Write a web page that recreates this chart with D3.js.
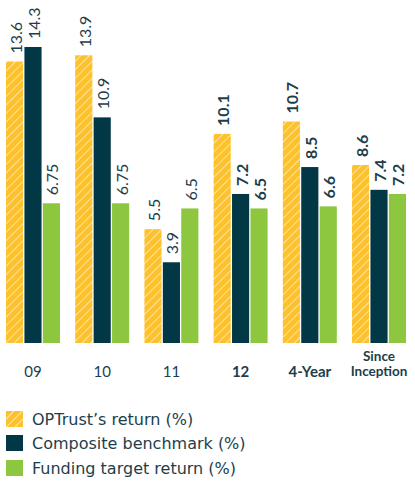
<!DOCTYPE html>
<html><head><meta charset="utf-8">
<script src="https://cdn.jsdelivr.net/npm/d3@7"></script>
<style>html,body{margin:0;padding:0;background:#fff;}svg{display:block;}</style>
</head><body>
<script>
const categories = ["09", "10", "11", "12", "4-Year", "Since Inception"];
const boldCategories = ["12", "4-Year", "Since Inception"];
const seriesNames = ["OPTrust\u2019s return (%)", "Composite benchmark (%)", "Funding target return (%)"];
const optrust = [13.6, 13.9, 5.5, 10.1, 10.7, 8.6];
const composite = [14.3, 10.9, 3.9, 7.2, 8.5, 7.4];
const funding = [6.75, 6.75, 6.5, 6.5, 6.6, 7.2];
const valueLabels = [
  ["13.6", "13.9", "5.5", "10.1", "10.7", "8.6"],
  ["14.3", "10.9", "3.9", "7.2", "8.5", "7.4"],
  ["6.75", "6.75", "6.5", "6.5", "6.6", "7.2"]
];

const W = 415, H = 481;
const FONT = "Lato, 'Open Sans', sans-serif";
const LEGFONT = "'DejaVu Sans', Lato, sans-serif";
const TEXT = "#1d3e4a";
const colors = ["#FDC12B", "#023745", "#8DC63F"];

const svg = d3.select("body").append("svg").attr("width", W).attr("height", H);
const defs = svg.append("defs");
function hatch(id, sw) {
  const p = defs.append("pattern").attr("id", id).attr("patternUnits", "userSpaceOnUse")
    .attr("width", 6).attr("height", 6).attr("patternTransform", "rotate(45)");
  p.append("rect").attr("width", 6).attr("height", 6).attr("fill", colors[0]);
  p.append("line").attr("x1", 0).attr("y1", 0).attr("x2", 0).attr("y2", 6)
    .attr("stroke", "#fff").attr("stroke-width", sw).attr("stroke-opacity", 0.9);
}
hatch("hatch", 1.2);
hatch("hatchL", 1.4);

const fills = ["url(#hatch)", colors[1], colors[2]];

const x0 = d3.scaleBand().domain(categories).range([6, 406]).paddingInner(0.22).paddingOuter(0);
const x1 = d3.scaleBand().domain([0, 1, 2]).range([0, x0.bandwidth()]).paddingInner(0.07);
const y = d3.scaleLinear().domain([0, 15]).range([343, 32.5]);

const series = [optrust, composite, funding];
const data = [];
categories.forEach((c, i) => {
  series.forEach((s, k) => data.push({cat: c, k, v: s[i], label: valueLabels[k][i], bold: boldCategories.includes(c)}));
});

const g = svg.append("g");
g.selectAll("rect.bar").data(data).join("rect").attr("class", "bar")
  .attr("x", d => x0(d.cat) + x1(d.k))
  .attr("width", x1.bandwidth())
  .attr("y", d => y(d.v))
  .attr("height", d => y(0) - y(d.v))
  .attr("fill", d => fills[d.k]);

g.selectAll("text.val").data(data).join("text").attr("class", "val")
  .attr("transform", d => `translate(${x0(d.cat) + x1(d.k) + x1.bandwidth() / 2 + 0.5},${y(d.v) - 8}) rotate(-90)`)
  .attr("text-anchor", "start")
  .attr("dominant-baseline", "central")
  .attr("font-family", FONT)
  .attr("font-size", 16)
  .attr("font-weight", d => d.bold ? 700 : 400)
  .attr("fill", TEXT)
  .text(d => d.label);

// x axis labels
const xAxis = svg.append("g").attr("transform", `translate(0,${y(0)})`)
  .call(d3.axisBottom(x0).tickSize(0).tickPadding(0).tickFormat(""));
xAxis.select(".domain").remove();
xAxis.selectAll(".tick").each(function(c) {
  const words = c === "Since Inception" ? ["Since", "Inception"] : [c];
  const t = d3.select(this).append("text")
    .attr("text-anchor", "middle")
    .attr("font-family", FONT)
    .attr("font-size", words.length > 1 ? 13.5 : 15)
    .attr("font-weight", boldCategories.includes(c) ? 700 : 400)
    .attr("fill", TEXT);
  if (words.length === 1) {
    t.append("tspan").attr("x", 0).attr("y", 34).text(words[0]);
  } else {
    t.append("tspan").attr("x", 0).attr("y", 17.5).text(words[0]);
    t.append("tspan").attr("x", 0).attr("y", 33).text(words[1]);
  }
});

// legend
const legY = [411, 435, 460];
const leg = svg.append("g");
seriesNames.forEach((n, k) => {
  leg.append("rect").attr("x", 6).attr("y", legY[k]).attr("width", 17).attr("height", 16)
    .attr("fill", k === 0 ? "url(#hatchL)" : colors[k]);
  leg.append("text").attr("x", 32).attr("y", legY[k] + 14)
    .attr("font-family", LEGFONT).attr("font-size", 16).attr("fill", TEXT).text(n);
});
</script>
</body></html>
